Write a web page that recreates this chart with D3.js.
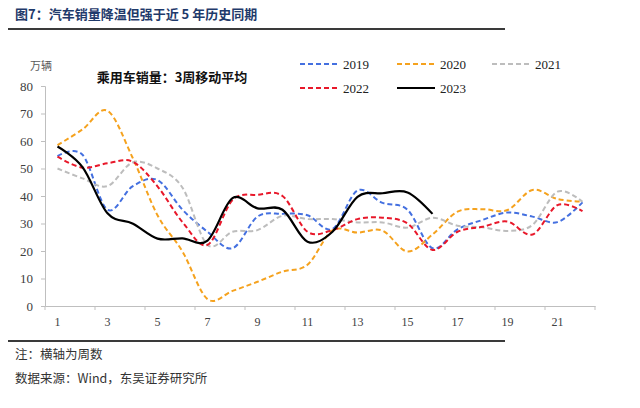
<!DOCTYPE html>
<html>
<head>
<meta charset="utf-8">
<script src="https://cdn.jsdelivr.net/npm/d3@7"></script>
<style>
  html, body { margin: 0; padding: 0; background: #fff; }
  svg { display: block; }
</style>
</head>
<body>
<svg id="chart" width="640" height="408"></svg>
<script>
const weeks = d3.range(1, 23);
const xTickLabels = [1, 3, 5, 7, 9, 11, 13, 15, 17, 19, 21];
const yTicks = [0, 10, 20, 30, 40, 50, 60, 70, 80];
const seriesNames = ["2019", "2020", "2021", "2022", "2023"];
const s2019 = [54.5, 55, 35, 43.5, 45.8, 35, 27, 21, 32.5, 33.5, 33, 28, 42, 37.5, 35, 21, 27.9, 31.3, 34, 32.5, 30.5, 37.7];
const s2020 = [58.5, 64.2, 71, 54, 33, 19.8, 2.5, 5.5, 8.8, 12.5, 15, 27.5, 26.7, 27.4, 19.8, 26, 34.3, 35.2, 34.9, 42.2, 38.9, 37.9];
const s2021 = [50, 46.4, 43.6, 52.2, 50, 43, 22.2, 27, 27.6, 32.8, 31.6, 31.6, 30.4, 30.4, 28.5, 32.1, 29.2, 28.6, 27.3, 29.5, 41.6, 37.9];
const s2022 = [54.3, 50.3, 51.9, 52.5, 43.5, 30.5, 22.2, 38.5, 40.4, 40, 27, 27.6, 31.6, 32.1, 30, 20.4, 27, 28.8, 30.7, 26, 36.7, 34.5];
const s2023 = [58, 50.5, 33.7, 30, 24.5, 24.6, 23.8, 39.2, 35.5, 35, 23.4, 27, 39.7, 41, 41.3, 33.5];

const seriesValues = [s2019, s2020, s2021, s2022, s2023];
const colors = ["#4470E0", "#F5A21E", "#BDBDBD", "#E8182A", "#000000"];
const dashes = ["5,3", "5,3", "5,3", "5,3", null];

const svg = d3.select("#chart");
const serif = "'Liberation Serif', 'Times New Roman', serif";
const cjk = "'Noto Sans CJK SC', sans-serif";

// Title
svg.append("text").attr("x", 15).attr("y", 19)
  .attr("font-family", cjk).attr("font-size", 13).attr("font-weight", "bold")
  .attr("fill", "#1F3A6B").text("图7：汽车销量降温但强于近 5 年历史同期");
svg.append("line").attr("x1", 8).attr("x2", 505).attr("y1", 29).attr("y2", 29)
  .attr("stroke", "#3a3a3a").attr("stroke-width", 2);

// Scales
const x = d3.scaleBand().domain(weeks).range([45, 595]).padding(0);
const y = d3.scaleLinear().domain([0, 80]).range([306, 86]);
const cx = w => x(w) + x.bandwidth() / 2;

// Y axis
const yAxis = svg.append("g").attr("transform", "translate(45,0)")
  .call(d3.axisLeft(y).tickValues(yTicks).tickSize(4).tickPadding(8));
yAxis.select(".domain").attr("stroke", "#BFBFBF");
yAxis.selectAll(".tick line").attr("stroke", "#BFBFBF");
yAxis.selectAll("text").attr("font-family", serif).attr("font-size", 13).attr("fill", "#404040");

// X axis
const xAxis = svg.append("g").attr("transform", "translate(0,306)")
  .call(d3.axisBottom(x).tickValues(xTickLabels).tickSize(0).tickPadding(11));
xAxis.select(".domain").attr("stroke", "#BFBFBF");
xAxis.selectAll("text").attr("font-family", serif).attr("font-size", 12).attr("fill", "#404040");
const boundaries = xTickLabels.map(w => x(w)).concat([x.range()[1]]);
svg.append("g").selectAll("line").data(boundaries).join("line")
  .attr("x1", d => d).attr("x2", d => d).attr("y1", 306).attr("y2", 310)
  .attr("stroke", "#BFBFBF");

// Unit and subtitle
svg.append("text").attr("x", 30).attr("y", 70)
  .attr("font-family", cjk).attr("font-size", 11).attr("fill", "#595959").text("万辆");
svg.append("text").attr("x", 172).attr("y", 82).attr("text-anchor", "middle")
  .attr("font-family", cjk).attr("font-size", 13).attr("font-weight", "bold")
  .attr("fill", "#111").text("乘用车销量：3周移动平均");

// Lines
const line = d3.line()
  .x((d, i) => cx(weeks[i]))
  .y(d => y(d))
  .curve(d3.curveCatmullRom.alpha(0));

seriesValues.forEach((vals, k) => {
  svg.append("path").datum(vals)
    .attr("d", line)
    .attr("fill", "none")
    .attr("stroke", colors[k])
    .attr("stroke-width", k === 4 ? 2.2 : 2)
    .attr("stroke-dasharray", dashes[k])
    .attr("stroke-linejoin", "round");
});

// Legend
const legendPos = [[300, 64], [397, 64], [492, 64], [300, 88], [397, 88]];
seriesNames.forEach((name, k) => {
  const [lx, ly] = legendPos[k];
  svg.append("line").attr("x1", lx).attr("x2", lx + 38).attr("y1", ly).attr("y2", ly)
    .attr("stroke", colors[k]).attr("stroke-width", 2)
    .attr("stroke-dasharray", dashes[k]);
  svg.append("text").attr("x", lx + 43).attr("y", ly + 4.5)
    .attr("font-family", serif).attr("font-size", 13).attr("fill", "#222").text(name);
});

// Bottom rule and notes
svg.append("line").attr("x1", 8).attr("x2", 505).attr("y1", 341).attr("y2", 341)
  .attr("stroke", "#3a3a3a").attr("stroke-width", 2);
svg.append("text").attr("x", 15).attr("y", 359)
  .attr("font-family", cjk).attr("font-size", 12.5).attr("fill", "#333").text("注：横轴为周数");
svg.append("text").attr("x", 15).attr("y", 383)
  .attr("font-family", cjk).attr("font-size", 12.5).attr("fill", "#333").text("数据来源：Wind，东吴证券研究所");
</script>
</body>
</html>
